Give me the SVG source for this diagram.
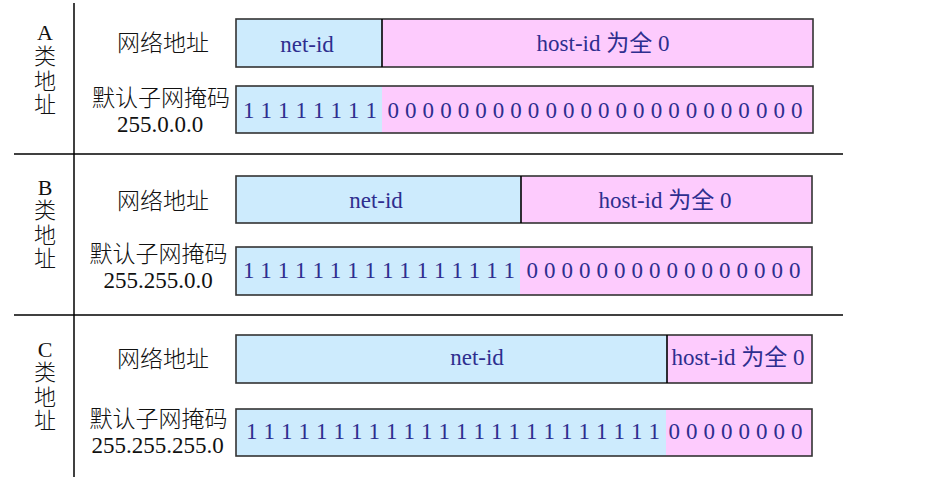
<svg xmlns="http://www.w3.org/2000/svg" width="937" height="497" viewBox="0 0 937 497">
<style>
.bg{fill:#ffffff}
.rule{stroke:#000;stroke-width:1.5;fill:none}
.blue{fill:#cdebfd}
.pink{fill:#fdcbfd}
.frame{fill:none;stroke:#333;stroke-width:1.6}
.div{stroke:#000;stroke-width:1.6}
.lbl{font-family:"Liberation Serif","Noto Sans CJK SC",serif;font-size:23px;font-weight:300;fill:#111;text-anchor:middle}
.cls{font-family:"Liberation Serif","Noto Sans CJK SC",serif;font-size:22px;font-weight:300;fill:#111;text-anchor:middle}
.in{font-family:"Liberation Serif","Noto Sans CJK SC",serif;font-size:23px;fill:#2e2e8f;text-anchor:middle}
.bits{font-family:"Liberation Serif",serif;font-size:23px;fill:#2e2e8f}
</style>
<rect class="bg" x="0" y="0" width="937" height="497"/>
<g id="connectors">
<line class="rule" x1="74" y1="3" x2="74" y2="477"/>
<line class="rule" x1="14" y1="154" x2="843" y2="154"/>
<line class="rule" x1="14" y1="315" x2="843" y2="315"/>
</g>
<g id="classA">
<text class="cls"><tspan x="45" y="40">A</tspan><tspan x="45" y="64">类</tspan><tspan x="45" y="89">地</tspan><tspan x="45" y="112">址</tspan></text>
</g>
<g id="classA-net">
<text class="lbl" x="163" y="51">网络地址</text>
<rect class="blue" x="236" y="19" width="146" height="48"/>
<rect class="pink" x="382" y="19" width="431" height="48"/>
<rect class="frame" x="236" y="19" width="577" height="48"/>
<line class="div" x1="382" y1="19" x2="382" y2="67"/>
<text class="in" x="307" y="52">net-id</text>
<text class="in" x="603" y="51">host-id 为全 0</text>
</g>
<g id="classA-mask">
<text class="lbl" x="161" y="106">默认子网掩码</text>
<text class="lbl" x="160" y="132">255.0.0.0</text>
<rect class="blue" x="236" y="86" width="146" height="47"/>
<rect class="pink" x="382" y="86" width="431" height="47"/>
<rect class="frame" x="236" y="86" width="577" height="47"/>
<text class="bits" x="243" y="118" textLength="134" lengthAdjust="spacing">1 1 1 1 1 1 1 1</text>
<text class="bits" x="387.5" y="118" textLength="415" lengthAdjust="spacing">0 0 0 0 0 0 0 0 0 0 0 0 0 0 0 0 0 0 0 0 0 0 0 0</text>
</g>
<g id="classB">
<text class="cls"><tspan x="45" y="195">B</tspan><tspan x="45" y="218">类</tspan><tspan x="45" y="243">地</tspan><tspan x="45" y="266">址</tspan></text>
</g>
<g id="classB-net">
<text class="lbl" x="163" y="209">网络地址</text>
<rect class="blue" x="236" y="176" width="285" height="47"/>
<rect class="pink" x="521" y="176" width="291" height="47"/>
<rect class="frame" x="236" y="176" width="576" height="47"/>
<line class="div" x1="521" y1="176" x2="521" y2="223"/>
<text class="in" x="376" y="208">net-id</text>
<text class="in" x="665" y="208">host-id 为全 0</text>
</g>
<g id="classB-mask">
<text class="lbl" x="158.5" y="262">默认子网掩码</text>
<text class="lbl" x="158" y="288">255.255.0.0</text>
<rect class="blue" x="236" y="247" width="284" height="48"/>
<rect class="pink" x="520" y="247" width="292" height="48"/>
<rect class="frame" x="236" y="247" width="576" height="48"/>
<text class="bits" x="243" y="278" textLength="272" lengthAdjust="spacing">1 1 1 1 1 1 1 1 1 1 1 1 1 1 1 1</text>
<text class="bits" x="526.5" y="278" textLength="274" lengthAdjust="spacing">0 0 0 0 0 0 0 0 0 0 0 0 0 0 0 0</text>
</g>
<g id="classC">
<text class="cls"><tspan x="45" y="357">C</tspan><tspan x="45" y="380">类</tspan><tspan x="45" y="405">地</tspan><tspan x="45" y="428">址</tspan></text>
</g>
<g id="classC-net">
<text class="lbl" x="163" y="367">网络地址</text>
<rect class="blue" x="236" y="335" width="431" height="48"/>
<rect class="pink" x="667" y="335" width="145" height="48"/>
<rect class="frame" x="236" y="335" width="576" height="48"/>
<line class="div" x1="667" y1="335" x2="667" y2="383"/>
<text class="in" x="477" y="365">net-id</text>
<text class="in" x="738" y="365">host-id 为全 0</text>
</g>
<g id="classC-mask">
<text class="lbl" x="158.5" y="427">默认子网掩码</text>
<text class="lbl" x="157.5" y="453">255.255.255.0</text>
<rect class="blue" x="236" y="409" width="430" height="47"/>
<rect class="pink" x="666" y="409" width="146" height="47"/>
<rect class="frame" x="236" y="409" width="576" height="47"/>
<text class="bits" x="246" y="439" textLength="414" lengthAdjust="spacing">1 1 1 1 1 1 1 1 1 1 1 1 1 1 1 1 1 1 1 1 1 1 1 1</text>
<text class="bits" x="668.5" y="439" textLength="134" lengthAdjust="spacing">0 0 0 0 0 0 0 0</text>
</g>
</svg>
